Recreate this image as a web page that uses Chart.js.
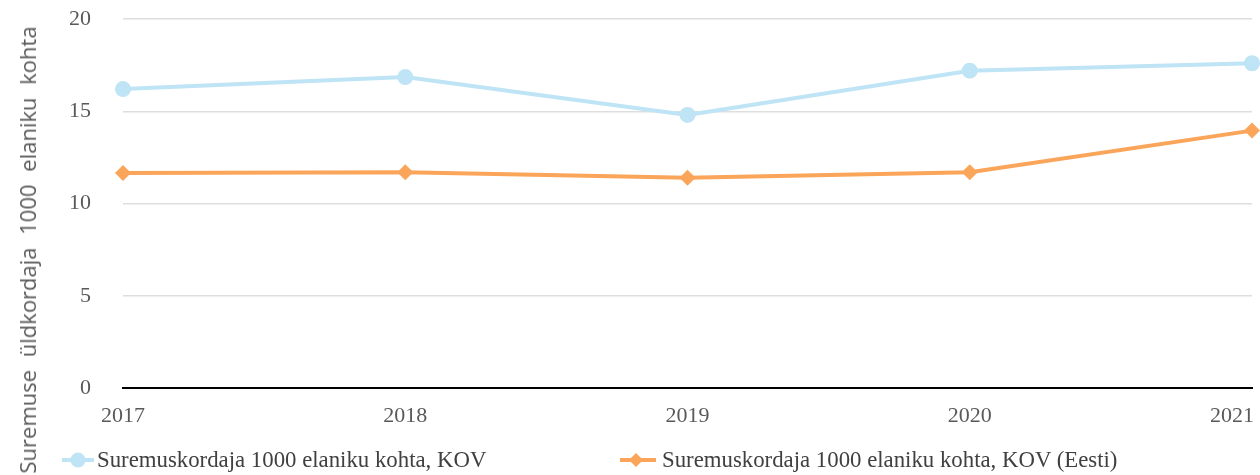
<!DOCTYPE html>
<html>
<head>
<meta charset="utf-8">
<script src="https://cdn.jsdelivr.net/npm/chart.js@4.4.0/dist/chart.umd.min.js"></script>
<style>
    body { margin: 0; background: #fff; overflow: hidden; }
    #wrap { position: relative; width: 1260px; height: 475px; }
    #chart { position: absolute; left: 0; top: 0; }
    #yTitle {
        position: absolute; left: 27px; top: 250px;
        transform: translate(-50%, -50%) rotate(-90deg);
        font-family: 'Open Sans'; font-size: 22px; color: #595959;
        white-space: nowrap; word-spacing: 7px;
    }
    .legend-item {
        position: absolute; top: 446px; height: 28px;
        display: flex; align-items: center;
        font-family: 'Liberation Serif'; font-size: 22.8px; color: #404040;
        white-space: nowrap;
    }
    .legend-item svg { margin-right: 3px; }
</style>
</head>
<body>
<div id="wrap">
    <canvas id="chart" width="1260" height="475"></canvas>
    <div id="yTitle">Suremuse üldkordaja 1000 elaniku kohta</div>
    <div class="legend-item" style="left:62px">
        <svg width="32" height="18"><line x1="0" y1="9" x2="32" y2="9" stroke="rgb(190,228,245)" stroke-width="4"/><circle cx="16" cy="9" r="7.5" fill="rgb(190,228,245)"/></svg>
        <span id="legend0"></span>
    </div>
    <div class="legend-item" style="left:620px">
        <svg width="36" height="18"><line x1="0" y1="9" x2="36" y2="9" stroke="rgb(250,165,90)" stroke-width="4"/><polygon points="16,2 23,9 16,16 9,9" fill="rgb(250,165,90)"/></svg>
        <span id="legend1" style="margin-left:3px"></span>
    </div>
</div>
<script>
// Chart data
const years = ['2017', '2018', '2019', '2020', '2021'];
const kovRate = [16.2, 16.85, 14.8, 17.2, 17.6];
const eestiRate = [11.65, 11.7, 11.4, 11.7, 13.95];
const seriesNames = ['Suremuskordaja 1000 elaniku kohta, KOV', 'Suremuskordaja 1000 elaniku kohta, KOV (Eesti)'];
const yTicks = [0, 5, 10, 15, 20];

const blue = 'rgb(190,228,245)';
const orange = 'rgb(250,165,90)';

document.getElementById('legend0').textContent = seriesNames[0];
document.getElementById('legend1').textContent = seriesNames[1];

// x labels drawn here so the last one can be pulled inside the canvas
const xLabelPlugin = {
    id: 'xLabels',
    afterDraw(chart) {
        const ctx = chart.ctx;
        const xScale = chart.scales.x;
        ctx.save();
        ctx.font = '22px "Liberation Serif"';
        ctx.fillStyle = '#595959';
        ctx.textAlign = 'center';
        ctx.textBaseline = 'middle';
        years.forEach((label, i) => {
            const px = xScale.getPixelForValue(i);
            const w = ctx.measureText(label).width;
            const cx = Math.min(px, chart.width - 6 - w / 2);
            ctx.fillText(label, cx, chart.chartArea.bottom + 28);
        });
        ctx.restore();
    }
};

const ctx = document.getElementById('chart').getContext('2d');
new Chart(ctx, {
    type: 'line',
    data: {
        labels: years,
        datasets: [{
            label: seriesNames[0],
            data: kovRate,
            borderColor: blue,
            backgroundColor: blue,
            borderWidth: 4,
            pointStyle: 'circle',
            pointRadius: 8,
            pointBorderWidth: 0,
            tension: 0
        }, {
            label: seriesNames[1],
            data: eestiRate,
            borderColor: orange,
            backgroundColor: orange,
            borderWidth: 4,
            pointStyle: 'rectRot',
            pointRadius: 8,
            pointBorderWidth: 0,
            tension: 0
        }]
    },
    options: {
        responsive: false,
        animation: false,
        layout: { padding: { top: 19, right: 4, bottom: 47, left: 0 } },
        plugins: {
            legend: { display: false },
            tooltip: { enabled: false }
        },
        scales: {
            x: {
                grid: { display: false },
                border: { display: true, color: '#000', width: 2 },
                ticks: { display: false },
                afterFit(scale) {
                    scale.height = 40;
                    scale.paddingLeft = 0;
                    scale.paddingRight = 0;
                }
            },
            y: {
                min: 0,
                max: 20,
                afterBuildTicks(scale) {
                    scale.ticks = yTicks.map(v => ({ value: v }));
                },
                grid: { color: '#dedede', lineWidth: 1.5, drawTicks: false },
                border: { display: false },
                ticks: {
                    padding: 32,
                    color: '#595959',
                    font: { family: 'Liberation Serif', size: 22 }
                },
                afterFit(scale) {
                    scale.width = 123;
                    scale.paddingTop = 0;
                    scale.paddingBottom = 0;
                }
            }
        }
    },
    plugins: [xLabelPlugin]
});
</script>
</body>
</html>
